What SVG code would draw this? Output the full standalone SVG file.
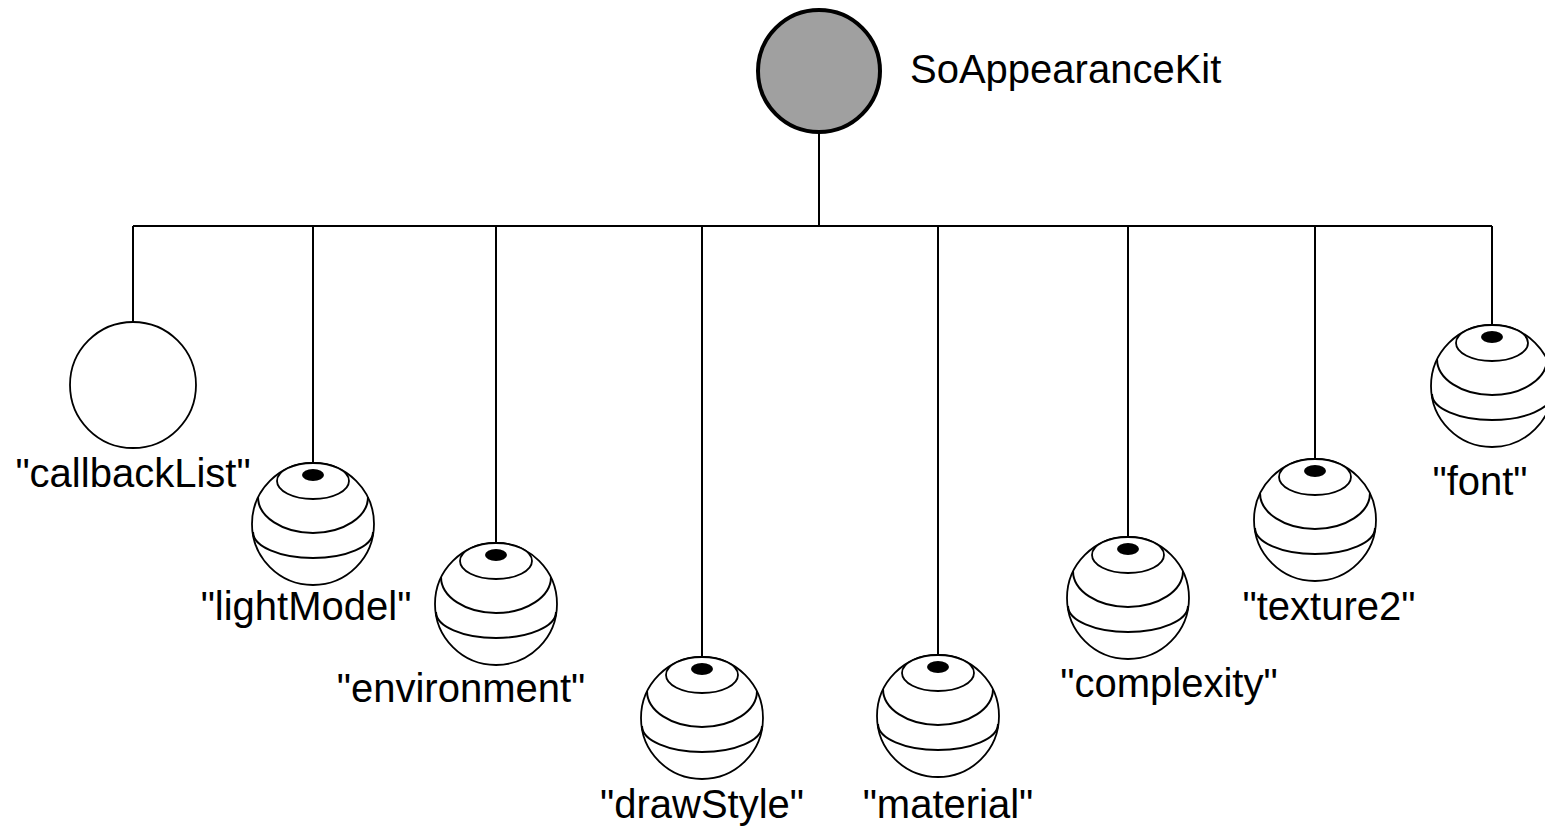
<svg xmlns="http://www.w3.org/2000/svg" width="1545" height="832" viewBox="0 0 1545 832">
<style>
.ln{stroke:#000;stroke-width:2;fill:none}
.sp{stroke:#000;stroke-width:1.8;fill:#fff}
.lb{font-family:"Liberation Sans",Arial,sans-serif;font-size:40px;fill:#000;text-anchor:middle}
</style>
<defs>
<g id="sphere">
<circle cx="0" cy="0" r="61" class="sp"/>
<path d="M -55 -27 A 55 36 0 0 0 55 -27" class="ln" stroke-width="1.8"/>
<path d="M -60 8 A 60 26 0 0 0 60 8" class="ln" stroke-width="1.8"/>
<ellipse cx="0" cy="-43" rx="36" ry="18" class="sp"/>
<ellipse cx="0" cy="-49" rx="11" ry="6" fill="#000"/>
</g>
</defs>
<rect width="1545" height="832" fill="#fff"/>
<g id="connectors">
<line x1="819" y1="133" x2="819" y2="226" class="ln"/>
<line x1="133" y1="226" x2="1492" y2="226" class="ln"/>
<line x1="133" y1="226" x2="133" y2="322" class="ln"/>
<line x1="313" y1="226" x2="313" y2="463" class="ln"/>
<line x1="496" y1="226" x2="496" y2="543" class="ln"/>
<line x1="702" y1="226" x2="702" y2="657" class="ln"/>
<line x1="938" y1="226" x2="938" y2="655" class="ln"/>
<line x1="1128" y1="226" x2="1128" y2="537" class="ln"/>
<line x1="1315" y1="226" x2="1315" y2="459" class="ln"/>
<line x1="1492" y1="226" x2="1492" y2="325" class="ln"/>
</g>
<g id="SoAppearanceKit">
<circle cx="819" cy="71" r="61" fill="#a0a0a0" stroke="#000" stroke-width="4"/>
<text x="910" y="83" class="lb" style="text-anchor:start">SoAppearanceKit</text>
</g>
<g id="callbackList">
<circle cx="133" cy="385" r="63" class="sp"/>
<text x="133" y="487" class="lb">"callbackList"</text>
</g>
<g id="lightModel">
<use href="#sphere" x="313" y="524"/>
<text x="306" y="620" class="lb">"lightModel"</text>
</g>
<g id="environment">
<use href="#sphere" x="496" y="604"/>
<text x="461" y="702" class="lb">"environment"</text>
</g>
<g id="drawStyle">
<use href="#sphere" x="702" y="718"/>
<text x="702" y="818" class="lb">"drawStyle"</text>
</g>
<g id="material">
<use href="#sphere" x="938" y="716"/>
<text x="948" y="818" class="lb">"material"</text>
</g>
<g id="complexity">
<use href="#sphere" x="1128" y="598"/>
<text x="1169" y="697" class="lb">"complexity"</text>
</g>
<g id="texture2">
<use href="#sphere" x="1315" y="520"/>
<text x="1329" y="620" class="lb">"texture2"</text>
</g>
<g id="font">
<use href="#sphere" x="1492" y="386"/>
<text x="1480" y="495" class="lb">"font"</text>
</g>
</svg>
